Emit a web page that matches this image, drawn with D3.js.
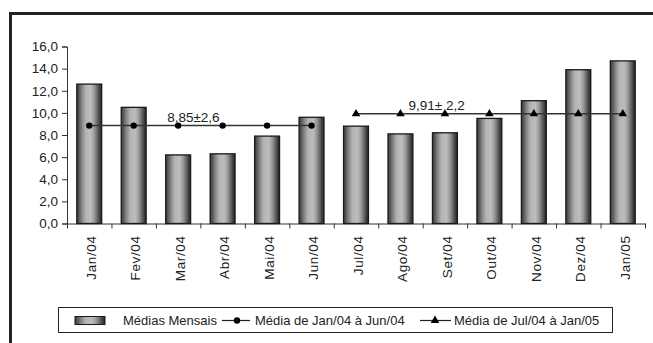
<!DOCTYPE html>
<html>
<head>
<meta charset="utf-8">
<script src="https://cdn.jsdelivr.net/npm/d3@7"></script>
<style>
  body { margin: 0; background: #fff; }
  svg { display: block; font-family: "Liberation Sans", Arial, sans-serif; }
</style>
</head>
<body>
<div id="chart"></div>
<script>
// Données
const meses = ["Jan/04", "Fev/04", "Mar/04", "Abr/04", "Mai/04", "Jun/04",
               "Jul/04", "Ago/04", "Set/04", "Out/04", "Nov/04", "Dez/04", "Jan/05"];
const mediasMensais = [12.6, 10.5, 6.2, 6.3, 7.9, 9.6, 8.8, 8.1, 8.2, 9.5, 11.1, 13.9, 14.7];
const periodo1 = ["Jan/04", "Fev/04", "Mar/04", "Abr/04", "Mai/04", "Jun/04"];
const media1 = 8.85;
const rotulo1 = "8,85±2,6";
const periodo2 = ["Jul/04", "Ago/04", "Set/04", "Out/04", "Nov/04", "Dez/04", "Jan/05"];
const media2 = 9.91;
const rotulo2 = "9,91± 2,2";
const yTicks = [0, 2, 4, 6, 8, 10, 12, 14, 16];
const legendas = ["Médias Mensais", "Média de Jan/04 à Jun/04", "Média de Jul/04 à Jan/05"];

const width = 653, height = 343;
const margin = { top: 46.5, left: 67, right: 8, bottom: 119.5 };

const svg = d3.select("#chart").append("svg")
    .attr("width", width)
    .attr("height", height);

// Dégradé "cylindre" des barres
const defs = svg.append("defs");
const grad = defs.append("linearGradient")
    .attr("id", "cyl")
    .attr("x1", "0%").attr("x2", "100%").attr("y1", "0%").attr("y2", "0%");
[[0, "#3a3a3a"], [0.1, "#5c5c5c"], [0.22, "#8a8a8a"], [0.36, "#b4b4b4"],
 [0.56, "#bdbdbd"], [0.7, "#9a9a9a"], [0.82, "#6a6a6a"], [0.92, "#3e3e3e"], [1, "#262626"]]
    .forEach(([o, c]) => grad.append("stop").attr("offset", o).attr("stop-color", c));

// Cadre extérieur (coupé à droite et en bas)
svg.append("rect")
    .attr("x", 10.5).attr("y", 13.5)
    .attr("width", 720).attr("height", 400)
    .attr("fill", "none")
    .attr("stroke", "#222")
    .attr("stroke-width", 3);

// Échelles
const x = d3.scaleBand()
    .domain(meses)
    .range([margin.left, width - margin.right])
    .padding(0);
const barW = x.bandwidth() * 0.56;
const cx = m => x(m) + x.bandwidth() / 2;

const y = d3.scaleLinear()
    .domain([0, 16])
    .range([height - margin.bottom, margin.top]);

// Axe Y
const yAxis = svg.append("g")
    .attr("transform", `translate(${margin.left},0)`)
    .call(d3.axisLeft(y).tickValues(yTicks).tickSize(5).tickPadding(4)
        .tickFormat(d => d3.format(".1f")(d).replace(".", ",")));
yAxis.selectAll("text").style("font-size", "13.5px").attr("fill", "#222");
yAxis.selectAll("line, path").attr("stroke", "#333");

// Axe X : graduations aux limites des catégories
const xi = d3.scaleLinear().domain([0, meses.length])
    .range([margin.left, width - margin.right]);
const xAxis = svg.append("g")
    .attr("transform", `translate(0,${y(0)})`)
    .call(d3.axisBottom(xi).tickValues(d3.range(meses.length + 1))
        .tickSize(5).tickSizeOuter(0).tickFormat(""));
xAxis.selectAll("line, path").attr("stroke", "#333");

svg.append("g")
    .selectAll("text")
    .data(meses)
    .join("text")
    .attr("transform", d => `translate(${cx(d) + 2},${y(0) + 12}) rotate(-90)`)
    .attr("text-anchor", "end")
    .attr("dy", "0.35em")
    .style("font-size", "13.5px")
    .attr("fill", "#222")
    .style("letter-spacing", "0.6px")
    .text(d => d);

// Barres
svg.append("g")
    .selectAll("rect")
    .data(meses.map((m, i) => ({ m, v: mediasMensais[i] })))
    .join("rect")
    .attr("x", d => cx(d.m) - barW / 2)
    .attr("y", d => y(d.v))
    .attr("width", barW)
    .attr("height", d => y(0) - y(d.v))
    .attr("fill", "url(#cyl)")
    .attr("stroke", "#1a1a1a")
    .attr("stroke-width", 1.3);

// Lignes de moyenne
const line = d3.line().x(d => cx(d.m)).y(d => y(d.v));
const pts1 = periodo1.map(m => ({ m, v: media1 }));
const pts2 = periodo2.map(m => ({ m, v: media2 }));

svg.append("path").datum(pts1).attr("d", line)
    .attr("fill", "none").attr("stroke", "#2c3833").attr("stroke-width", 1.5);
svg.append("g").selectAll("circle").data(pts1).join("circle")
    .attr("cx", d => cx(d.m)).attr("cy", d => y(d.v)).attr("r", 3.2)
    .attr("fill", "#000");

svg.append("path").datum(pts2).attr("d", line)
    .attr("fill", "none").attr("stroke", "#2c3833").attr("stroke-width", 1.5);
svg.append("g").selectAll("path").data(pts2).join("path")
    .attr("d", d3.symbol(d3.symbolTriangle, 32))
    .attr("transform", d => `translate(${cx(d.m)},${y(d.v)})`)
    .attr("fill", "#000");

// Étiquettes moyenne ± écart-type
svg.append("text")
    .attr("x", cx("Mar/04") - 11).attr("y", y(media1) - 3.5)
    .style("font-size", "13.5px").attr("fill", "#222")
    .text(rotulo1);
svg.append("text")
    .attr("x", cx("Ago/04") + 8).attr("y", y(media2) - 3.5)
    .style("font-size", "13.5px").attr("fill", "#222")
    .text(rotulo2);

// Légende
const leg = svg.append("g");
leg.append("rect")
    .attr("x", 58.5).attr("y", 307.5).attr("width", 554).attr("height", 25)
    .attr("fill", "#fff").attr("stroke", "#222").attr("stroke-width", 1);
leg.append("rect")
    .attr("x", 75).attr("y", 316.5).attr("width", 30).attr("height", 8)
    .attr("fill", "url(#cyl)").attr("stroke", "#1a1a1a").attr("stroke-width", 1);

const legY = 320.5;
leg.append("line").attr("x1", 222).attr("x2", 250).attr("y1", legY).attr("y2", legY)
    .attr("stroke", "#222").attr("stroke-width", 1.2);
leg.append("circle").attr("cx", 237).attr("cy", legY).attr("r", 3.2).attr("fill", "#000");
leg.append("line").attr("x1", 420).attr("x2", 451).attr("y1", legY).attr("y2", legY)
    .attr("stroke", "#222").attr("stroke-width", 1.2);
leg.append("path").attr("d", d3.symbol(d3.symbolTriangle, 32))
    .attr("transform", `translate(435,${legY})`).attr("fill", "#000");

leg.selectAll("text.lg")
    .data(legendas.map((t, i) => ({ t, x: [123, 255, 454][i] })))
    .join("text")
    .attr("class", "lg")
    .attr("x", d => d.x).attr("y", legY + 4.5)
    .style("font-size", "13px").attr("fill", "#222")
    .text(d => d.t);
</script>
</body>
</html>
